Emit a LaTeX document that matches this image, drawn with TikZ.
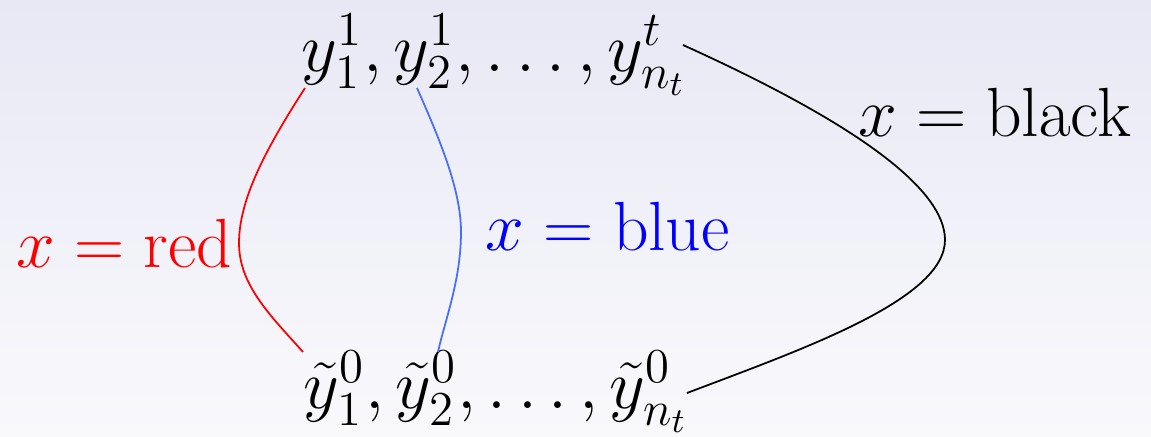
\documentclass[tikz,border=0pt]{standalone}
\usepackage{fix-cm}
\definecolor{bgtop}{RGB}{232,232,245}
\definecolor{bgbot}{RGB}{249,249,252}
\definecolor{myblue}{RGB}{0,0,255}
\definecolor{lineblue}{RGB}{70,110,255}
\tikzset{
  lbl/.style={inner sep=0pt, font=\fontsize{19.8}{24}\selectfont},
  conn/.style={line width=0.5pt},
}
\begin{document}
\begin{tikzpicture}[x=0.01cm,y=-0.01cm]
\shade[top color=bgtop, bottom color=bgbot] (0,0) rectangle (1151,436);
\useasboundingbox (0,0) rectangle (1151,436);
\node[lbl] (top) at (494,55) {$y_1^1, y_2^1, \ldots, y_{n_t}^t$};
\node[lbl] (bot) at (496,392) {$\tilde{y}_1^0, \tilde{y}_2^0, \ldots, \tilde{y}_{n_t}^0$};
\node[lbl, text=red, anchor=east] (red) at (233,243) {$x = \mathrm{red}$};
\node[lbl, text=myblue, anchor=west] (blue) at (485,226) {$x = \mathrm{blue}$};
\node[lbl, anchor=west] (black) at (858,112) {$x = \mathrm{black}$};
\coordinate (r1) at (305,88);
\coordinate (r2) at (239,243);
\coordinate (r3) at (303,352);
\coordinate (b1) at (417,88);
\coordinate (b2) at (461,232);
\coordinate (b3) at (438,352);
\coordinate (k1) at (683,45);
\coordinate (k2) at (945,240);
\coordinate (k3) at (687,393);
\draw[conn, red] (r1) .. controls (265,150) and (239,200) .. (r2) .. controls (239,285) and (270,315) .. (r3);
\draw[conn, lineblue] (b1) .. controls (440,140) and (461,190) .. (b2) .. controls (461,280) and (445,320) .. (b3);
\draw[conn, black] (k1) .. controls (860,125) and (945,190) .. (k2) .. controls (945,300) and (800,350) .. (k3);
\end{tikzpicture}
\end{document}
